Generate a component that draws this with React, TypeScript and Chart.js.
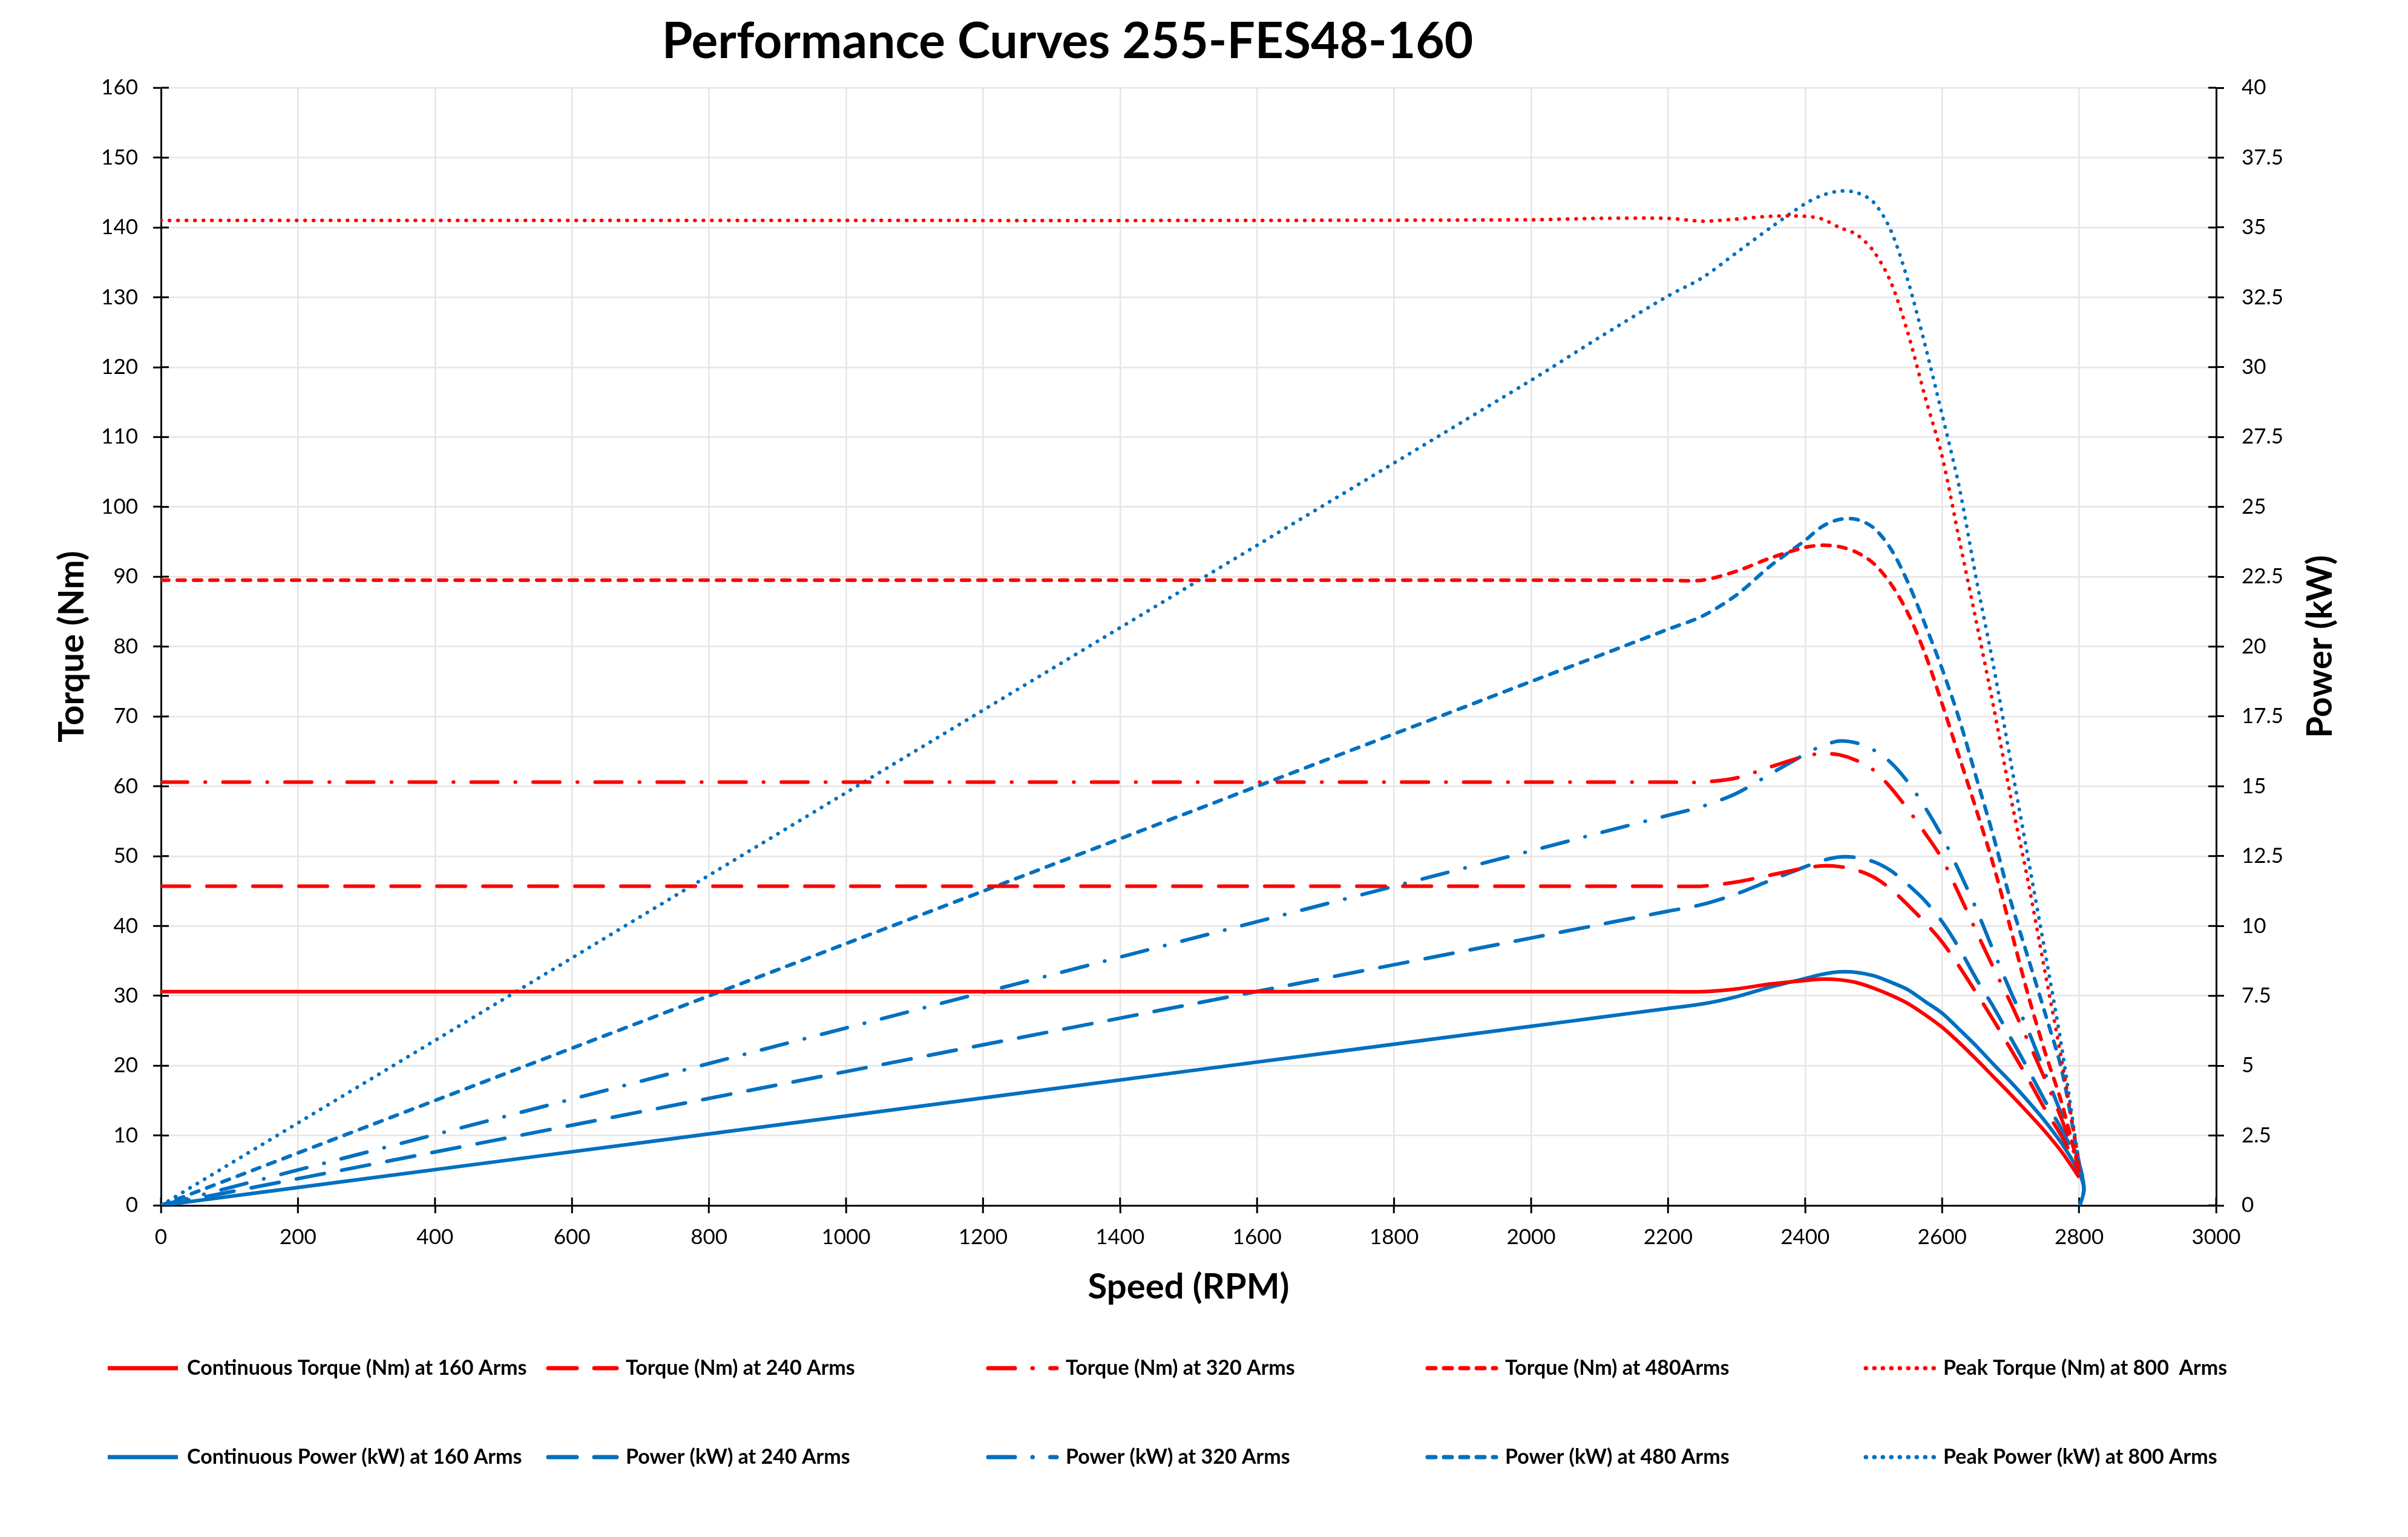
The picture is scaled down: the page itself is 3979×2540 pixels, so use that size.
import React, { useEffect, useRef } from "react";
import { Chart, registerables } from "chart.js";

Chart.register(...registerables);

const W = 3979;
const H = 2540;

// Speed grid (RPM)
const rpm = [0, 500, 1000, 1500, 2000, 2100, 2200, 2250, 2300, 2350, 2400, 2425, 2450, 2475, 2500, 2525, 2550, 2575, 2600, 2625, 2650, 2675, 2700, 2725, 2750, 2775, 2800];
// Power curves finish with a small hook back to zero
const rpmPower = [...rpm, 2807, 2801];

// Torque (Nm)
const torque160 = [30.6, 30.6, 30.6, 30.6, 30.6, 30.6, 30.6, 30.6, 31.0, 31.7, 32.2, 32.4, 32.3, 31.9, 31.1, 30.1, 28.9, 27.3, 25.5, 23.3, 20.9, 18.4, 15.9, 13.3, 10.6, 7.6, 4.0];
const torque240 = [45.7, 45.7, 45.7, 45.7, 45.7, 45.7, 45.7, 45.7, 46.3, 47.3, 48.3, 48.6, 48.5, 48.0, 47.0, 45.3, 43.0, 40.5, 37.7, 34.2, 30.4, 26.5, 22.4, 18.2, 13.8, 9.8, 5.0];
const torque320 = [60.6, 60.6, 60.6, 60.6, 60.6, 60.6, 60.6, 60.6, 61.2, 62.8, 64.3, 64.7, 64.5, 63.7, 62.3, 59.8, 56.7, 53.3, 49.6, 44.5, 39.2, 34.0, 29.0, 23.6, 18.1, 12.2, 5.5];
const torque480 = [89.5, 89.5, 89.5, 89.5, 89.5, 89.5, 89.5, 89.5, 90.8, 92.7, 94.2, 94.5, 94.3, 93.5, 91.9, 89.0, 84.8, 79.0, 71.8, 64.2, 56.6, 48.7, 39.6, 30.3, 22.0, 14.5, 5.0];
const torque800 = [141.0, 141.0, 141.0, 141.0, 141.1, 141.3, 141.3, 140.9, 141.2, 141.6, 141.6, 141.2, 140.0, 139.0, 136.6, 132.2, 124.9, 115.8, 107.2, 95.3, 83.5, 71.4, 58.5, 46.6, 33.5, 20.5, 6.0];

// Power (kW)
const power160 = [0, 1.6, 3.2, 4.81, 6.41, 6.73, 7.05, 7.21, 7.47, 7.82, 8.12, 8.27, 8.36, 8.34, 8.22, 7.99, 7.72, 7.3, 6.88, 6.3, 5.7, 5.05, 4.42, 3.74, 3.02, 2.2, 1.17, 0.55, 0];
const power240 = [0, 2.39, 4.79, 7.18, 9.57, 10.05, 10.53, 10.77, 11.15, 11.64, 12.12, 12.34, 12.47, 12.45, 12.3, 11.98, 11.48, 10.9, 10.15, 9.2, 8.1, 7.1, 6.0, 4.9, 3.75, 2.7, 1.4, 0.6, 0];
const power320 = [0, 3.17, 6.35, 9.52, 12.69, 13.33, 13.96, 14.28, 14.75, 15.45, 16.15, 16.45, 16.62, 16.55, 16.3, 15.85, 15.15, 14.25, 13.2, 11.95, 10.6, 9.1, 7.65, 6.3, 4.75, 3.2, 1.5, 0.6, 0];
const power480 = [0, 4.69, 9.37, 14.06, 18.75, 19.68, 20.62, 21.09, 21.85, 22.9, 23.8, 24.3, 24.55, 24.55, 24.25, 23.5, 22.3, 20.8, 19.2, 17.4, 15.3, 13.2, 10.9, 8.9, 6.9, 4.8, 1.5, 0.6, 0];
const power800 = [0, 7.38, 14.77, 22.15, 29.53, 31.07, 32.55, 33.2, 34.1, 35.0, 35.85, 36.15, 36.3, 36.25, 35.9, 34.9, 33.1, 30.8, 28.3, 25.7, 22.4, 19.3, 15.9, 12.5, 9.1, 5.6, 1.5, 0.6, 0];

const torqueLabels = [
  "Continuous Torque (Nm) at 160 Arms",
  "Torque (Nm) at 240 Arms",
  "Torque (Nm) at 320 Arms",
  "Torque (Nm) at 480Arms",
  "Peak Torque (Nm) at 800  Arms",
];
const powerLabels = [
  "Continuous Power (kW) at 160 Arms",
  "Power (kW) at 240 Arms",
  "Power (kW) at 320 Arms",
  "Power (kW) at 480 Arms",
  "Peak Power (kW) at 800 Arms",
];

const xTitle = "Speed (RPM)";
const yTitle = "Torque (Nm)";
const y2Title = "Power (kW)";
const chartTitle = "Performance Curves 255-FES48-160";

// Styles
const RED = "#FF0000";
const BLUE = "#0070C0";
const dashes: number[][] = [[], [47, 29], [44, 29, 0.5, 29], [13, 14], [0.5, 13.5]];
const FONT = "Lato, 'Open Sans', sans-serif";
const LW = 6;

const torqueSeries = [torque160, torque240, torque320, torque480, torque800];
const powerSeries = [power160, power240, power320, power480, power800];

const toPts = (xs: number[], ys: number[]) => xs.map((x, i) => ({ x, y: ys[i] }));

function buildDatasets() {
  const ds: any[] = [];
  torqueSeries.forEach((ys, i) => {
    ds.push({
      label: torqueLabels[i],
      data: toPts(rpm, ys),
      yAxisID: "y",
      borderColor: RED,
      backgroundColor: RED,
      borderWidth: LW,
      borderDash: dashes[i],
      borderCapStyle: i === 0 ? "butt" : "round",
      borderJoinStyle: "round",
      pointRadius: 0,
      tension: 0.3,
      fill: false,
    });
  });
  powerSeries.forEach((ys, i) => {
    ds.push({
      label: powerLabels[i],
      data: toPts(rpmPower, ys),
      yAxisID: "y2",
      borderColor: BLUE,
      backgroundColor: BLUE,
      borderWidth: LW,
      borderDash: dashes[i],
      borderCapStyle: i === 0 ? "butt" : "round",
      borderJoinStyle: "round",
      pointRadius: 0,
      tension: 0.3,
      fill: false,
    });
  });
  return ds;
}

const decorPlugin = {
  id: "decor",
  beforeDatasetsDraw(chart: any) {
    const ctx = chart.ctx;
    const { left, right, bottom } = chart.chartArea;
    ctx.save();
    ctx.strokeStyle = "#000";
    ctx.lineWidth = 3;
    ctx.beginPath();
    const xs = chart.scales.x;
    xs.ticks.forEach((t: any) => {
      const px = xs.getPixelForValue(t.value);
      ctx.moveTo(px, bottom);
      ctx.lineTo(px, bottom - 13);
    });
    const ys = chart.scales.y;
    ys.ticks.forEach((t: any) => {
      const py = ys.getPixelForValue(t.value);
      ctx.moveTo(left, py);
      ctx.lineTo(left + 13, py);
    });
    const y2 = chart.scales.y2;
    y2.ticks.forEach((t: any) => {
      const py = y2.getPixelForValue(t.value);
      ctx.moveTo(right - 13, py);
      ctx.lineTo(right, py);
    });
    ctx.stroke();
    ctx.restore();
  },
  afterDraw(chart: any) {
    const ctx = chart.ctx;
    const { top, bottom } = chart.chartArea;
    ctx.save();
    // Chart title
    ctx.fillStyle = "#000";
    ctx.font = `bold 82px ${FONT}`;
    ctx.textAlign = "center";
    ctx.textBaseline = "alphabetic";
    ctx.fillText(chartTitle, 1764, 96);

    // Right axis title (reads bottom to top)
    ctx.save();
    ctx.translate(3834, (top + bottom) / 2);
    ctx.rotate(-Math.PI / 2);
    ctx.font = `bold 58px ${FONT}`;
    ctx.textAlign = "center";
    ctx.textBaseline = "middle";
    ctx.fillText(y2Title, 0, 0);
    ctx.restore();

    // Legend
    const colX = [178, 903, 1630, 2356, 3080];
    const rowY = [2261, 2408];
    const swatch = 116;
    const rows = [
      { labels: torqueLabels, color: RED },
      { labels: powerLabels, color: BLUE },
    ];
    rows.forEach((row, r) => {
      row.labels.forEach((lab, i) => {
        const x = colX[i];
        const y = rowY[r];
        ctx.save();
        ctx.strokeStyle = row.color;
        ctx.lineWidth = 7;
        ctx.lineCap = i === 0 ? "butt" : "round";
        ctx.setLineDash(dashes[i]);
        ctx.beginPath();
        ctx.moveTo(x + (i === 0 ? 0 : 3), y);
        ctx.lineTo(x + swatch, y);
        ctx.stroke();
        ctx.restore();
        ctx.fillStyle = "#000";
        ctx.font = `bold 34px ${FONT}`;
        ctx.textAlign = "left";
        ctx.textBaseline = "middle";
        ctx.fillText(lab, x + swatch + 15, y);
      });
    });
    ctx.restore();
  },
};

const tickFont = { family: FONT, size: 35 };
const titleFont = { family: FONT, size: 58, weight: "bold" as const };
const gridColor = "#e6e6e6";

export default function App() {
  const ref = useRef<HTMLCanvasElement>(null);
  useEffect(() => {
    const canvas = ref.current;
    if (!canvas) return;
    const chart = new Chart(canvas, {
      type: "line",
      data: { datasets: buildDatasets() },
      options: {
        responsive: false,
        animation: false,
        devicePixelRatio: 1,
        events: [],
        layout: { padding: { top: 145, left: 0, right: 0, bottom: 0 } },
        plugins: {
          legend: { display: false },
          title: { display: false },
          tooltip: { enabled: false },
        },
        scales: {
          x: {
            type: "linear",
            position: "bottom",
            min: 0,
            max: 3000,
            ticks: {
              stepSize: 200,
              autoSkip: false,
              maxRotation: 0,
              color: "#000",
              font: tickFont,
              padding: 19,
              callback: (v: any) => String(v),
            },
            grid: { color: gridColor, lineWidth: 2.5, tickColor: "#000", tickLength: 13, tickWidth: 3 },
            border: { color: "#000", width: 3 },
            title: { display: true, text: xTitle, color: "#000", font: titleFont, padding: { top: 0, bottom: 378 } },
            afterFit: (s: any) => {
              s.height = 548;
            },
          },
          y: {
            type: "linear",
            position: "left",
            min: 0,
            max: 160,
            ticks: { stepSize: 10, color: "#000", font: tickFont, padding: 25, callback: (v: any) => String(v) },
            grid: { color: gridColor, lineWidth: 2.5, tickColor: "#000", tickLength: 13, tickWidth: 3 },
            border: { color: "#000", width: 3 },
            title: { display: true, text: yTitle, color: "#000", font: titleFont, padding: { top: 84, bottom: 0 } },
            afterFit: (s: any) => {
              s.width = 266;
            },
          },
          y2: {
            type: "linear",
            position: "right",
            min: 0,
            max: 40,
            ticks: { stepSize: 2.5, color: "#000", font: tickFont, padding: 29, callback: (v: any) => String(v) },
            grid: { drawOnChartArea: false, color: gridColor, tickColor: "#000", tickLength: 13, tickWidth: 3 },
            border: { color: "#000", width: 3 },
            afterFit: (s: any) => {
              s.width = W - 3662;
            },
          },
        },
      } as any,
      plugins: [decorPlugin],
    });
    return () => chart.destroy();
  }, []);
  return (
    <div style={{ position: "absolute", left: 0, top: 0, width: W, height: H, background: "#fff" }}>
      <canvas ref={ref} width={W} height={H} style={{ width: W, height: H, display: "block" }} />
    </div>
  );
}
